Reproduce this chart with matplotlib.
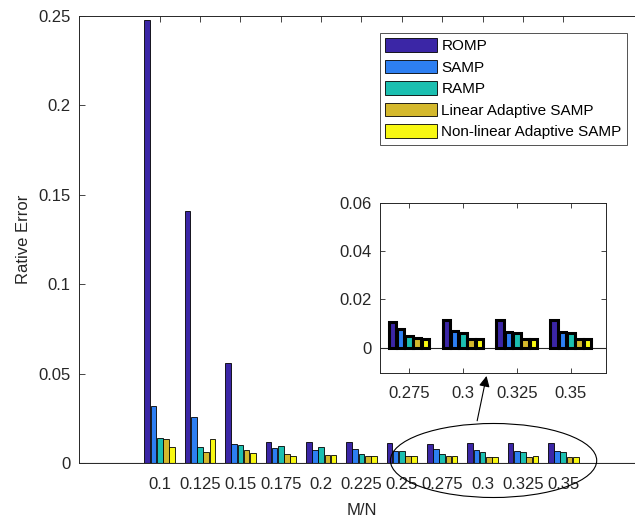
import matplotlib
matplotlib.use("Agg")
import matplotlib.pyplot as plt
import numpy as np
from matplotlib.patches import Ellipse

plt.rcParams["font.family"] = ["Liberation Sans", "DejaVu Sans"]

# Data
m_over_n = [0.1, 0.125, 0.15, 0.175, 0.2, 0.225, 0.25, 0.275, 0.3, 0.325, 0.35]
tick_labels = ["0.1", "0.125", "0.15", "0.175", "0.2", "0.225", "0.25",
               "0.275", "0.3", "0.325", "0.35"]
romp = [0.2475, 0.1407, 0.0562, 0.0120, 0.0116, 0.0116, 0.0113, 0.0105, 0.0113, 0.0113, 0.0113]
samp = [0.0320, 0.0256, 0.0105, 0.0085, 0.0070, 0.0079, 0.0068, 0.0078, 0.0070, 0.0065, 0.0065]
ramp = [0.0141, 0.0092, 0.0102, 0.0094, 0.0088, 0.0048, 0.0068, 0.0049, 0.0059, 0.0059, 0.0059]
lin_asamp = [0.0135, 0.0059, 0.0070, 0.0053, 0.0042, 0.0038, 0.0040, 0.0039, 0.0035, 0.0034, 0.0034]
nonlin_asamp = [0.0088, 0.0135, 0.0057, 0.0040, 0.0042, 0.0038, 0.0040, 0.0037, 0.0035, 0.0037, 0.0035]

series = [romp, samp, ramp, lin_asamp, nonlin_asamp]
names = ["ROMP", "SAMP", "RAMP", "Linear Adaptive SAMP", "Non-linear Adaptive SAMP"]
colors = ["#3b26a6", "#2d7ff2", "#1bbfb0", "#d4b82c", "#f8f812"]

inset_idx = [7, 8, 9, 10]

AX_COLOR = "#262626"
step = 0.025
group_w = 0.77 * step
bar_w = group_w / len(series)

fig = plt.figure(figsize=(6.35, 5.18), dpi=100)
ax = fig.add_axes([79 / 635, 55 / 518, 565 / 635, 447 / 518])

x = np.array(m_over_n)
for k, (vals, name, c) in enumerate(zip(series, names, colors)):
    offs = (k - (len(series) - 1) / 2) * bar_w
    ax.bar(x + offs, vals, width=bar_w * 0.9, color=c, edgecolor="black",
           linewidth=0.6, label=name, zorder=2)

ax.set_xlim(0.05, 0.4)
ax.set_ylim(0, 0.25)
ax.set_xticks(m_over_n)
ax.set_xticklabels(tick_labels)
ax.set_yticks([0, 0.05, 0.1, 0.15, 0.2, 0.25])
ax.set_yticklabels(["0", "0.05", "0.1", "0.15", "0.2", "0.25"])
ax.tick_params(direction="in", length=4.5, width=0.6, colors=AX_COLOR,
               labelsize=12, top=True, right=True, pad=6)
ax.tick_params(axis="x", pad=10)
for sp in ax.spines.values():
    sp.set_color(AX_COLOR)
    sp.set_linewidth(0.7)
ax.axhline(0, color="black", linewidth=0.8, zorder=3)

ax.set_xlabel("M/N", fontsize=12, color=AX_COLOR, labelpad=8)
ax.set_ylabel("Rative Error", fontsize=12, color=AX_COLOR, labelpad=5)

leg = ax.legend(loc="upper right", bbox_to_anchor=(0.970, 0.962),
                borderaxespad=0, fancybox=False, fontsize=11,
                handlelength=3.4, handleheight=1.0, handletextpad=0.3,
                labelspacing=0.42, borderpad=0.35)
leg.get_frame().set_edgecolor(AX_COLOR)
leg.get_frame().set_linewidth(0.7)

# Ellipse around the last groups and arrow to the zoomed view
ell = Ellipse((0.3068, 0.0014), 0.1278, 0.0414, fill=False,
              edgecolor="black", linewidth=0.8, clip_on=False, zorder=4)
ax.add_patch(ell)
ax.annotate("", xy=(0.3028, 0.0502), xytext=(0.2963, 0.0221),
            arrowprops=dict(arrowstyle="-|>", color="black", lw=0.8,
                            mutation_scale=16), annotation_clip=False)

# Zoomed inset
axin = fig.add_axes([380 / 635, 145 / 518, 226 / 635, 170 / 518])
xin = np.array([m_over_n[i] for i in inset_idx])
for k, (vals, c) in enumerate(zip(series, colors)):
    offs = (k - (len(series) - 1) / 2) * bar_w
    axin.bar(xin + offs, [vals[i] for i in inset_idx], width=bar_w * 0.9,
             color=c, edgecolor="black", linewidth=2.2, zorder=2)
axin.axhline(0, color=AX_COLOR, linewidth=0.8, zorder=1)
axin.set_xlim(0.2616, 0.3663)
axin.set_ylim(-0.0105, 0.06)
axin.set_xticks(xin)
axin.set_xticklabels([tick_labels[i] for i in inset_idx])
axin.set_yticks([0, 0.02, 0.04, 0.06])
axin.set_yticklabels(["0", "0.02", "0.04", "0.06"])
axin.tick_params(direction="in", length=3.5, width=0.6, colors=AX_COLOR,
                 labelsize=12, top=True, right=True, pad=6)
axin.tick_params(axis="x", pad=9)
for sp in axin.spines.values():
    sp.set_color(AX_COLOR)
    sp.set_linewidth(0.7)

fig.savefig("out.png", dpi=100)
